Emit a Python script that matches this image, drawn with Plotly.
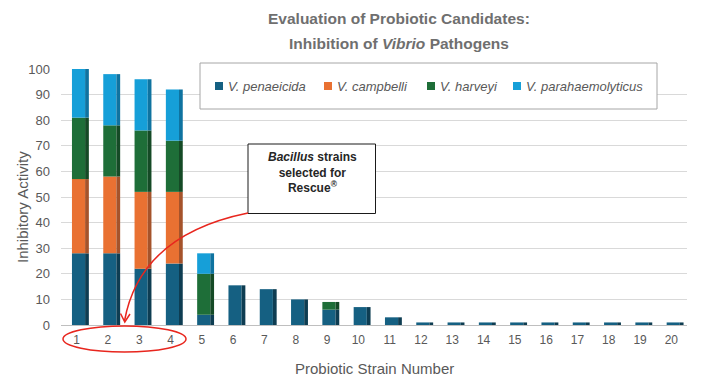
import plotly.graph_objects as go

# ---- data ----
strains = list(range(1, 21))
strain_labels = [str(s) for s in strains]
series_names = ["V. penaeicida", "V. campbelli", "V. harveyi", "V. parahaemolyticus"]
penaeicida = [28, 28, 22, 24, 4, 15.5, 14, 10, 6, 7, 3, 1, 1, 1, 1, 1, 1, 1, 1, 1]
campbelli = [29, 30, 30, 28, 0, 0, 0, 0, 0, 0, 0, 0, 0, 0, 0, 0, 0, 0, 0, 0]
harveyi = [24, 20, 24, 20, 16, 0, 0, 0, 3, 0, 0, 0, 0, 0, 0, 0, 0, 0, 0, 0]
parahaemolyticus = [19, 20, 20, 20, 8, 0, 0, 0, 0, 0, 0, 0, 0, 0, 0, 0, 0, 0, 0, 0]
y_ticks = [0, 10, 20, 30, 40, 50, 60, 70, 80, 90, 100]

series = [penaeicida, campbelli, harveyi, parahaemolyticus]
front_colors = ["#156082", "#E97132", "#1E6E38", "#169FD8"]
side_colors = ["#0E3D52", "#A5532B", "#154A26", "#0F73A0"]

# page body has an 8px margin: draw in a 702x375 figure, coordinates given in reference pixels
OFF = 8
W, H = 702, 375
ML, MT = 61 - OFF, 69 - OFF
MR = W - (687 - OFF)
MB = H - (325 - OFF)
PW, PH = W - ML - MR, H - MT - MB


def px(x):
    return (x - OFF - ML) / PW


def py(y):
    return (H - MB - (y - OFF)) / PH


fig = go.Figure()
base = [0.0] * len(strains)
for name, vals, fc, sc in zip(series_names, series, front_colors, side_colors):
    fig.add_trace(go.Bar(
        x=strains, y=vals, base=base, name=name,
        marker=dict(color=fc, line=dict(width=0)),
        width=0.42, offset=-0.15, showlegend=False,
    ))
    fig.add_trace(go.Bar(
        x=strains, y=vals, base=base, name=name + " side",
        marker=dict(color=sc, line=dict(width=0)),
        width=0.12, offset=0.27, showlegend=False, hoverinfo="skip",
    ))
    base = [b + v for b, v in zip(base, vals)]

FONT = "Liberation Sans"
GRAY = "#595959"

fig.update_layout(
    width=W, height=H,
    margin=dict(l=ML, r=MR, t=MT, b=MB, autoexpand=False),
    paper_bgcolor="white", plot_bgcolor="white",
    barmode="overlay",
    font=dict(family=FONT, color=GRAY, size=13),
    showlegend=False,
    xaxis=dict(
        range=[0.5, 20.5], tickvals=strains, ticktext=strain_labels,
        showgrid=False, zeroline=False, showline=True, linecolor="#BFBFBF", linewidth=1,
        ticks="", tickfont=dict(size=12, color=GRAY), ticklabelstandoff=4,
    ),
    yaxis=dict(
        range=[0, 100], tickvals=y_ticks, showgrid=True, gridcolor="#D9D9D9", gridwidth=1,
        zeroline=False, showline=False, ticks="", tickfont=dict(size=13, color=GRAY),
        ticklabelstandoff=10,
    ),
)

annotations = []
shapes = []

# Title
annotations.append(dict(xref="paper", yref="paper", x=px(399), y=py(18), xanchor="center", yanchor="middle",
                        text="<b>Evaluation of Probiotic Candidates:</b>", showarrow=False,
                        font=dict(size=15.5, color="#6F6F6F", family=FONT)))
annotations.append(dict(xref="paper", yref="paper", x=px(399), y=py(43), xanchor="center", yanchor="middle",
                        text="<b>Inhibition of <i>Vibrio</i> Pathogens</b>", showarrow=False,
                        font=dict(size=15.5, color="#6F6F6F", family=FONT)))
# Axis titles
annotations.append(dict(xref="paper", yref="paper", x=px(374), y=py(368), xanchor="center", yanchor="middle",
                        text="Probiotic Strain Number", showarrow=False,
                        font=dict(size=15, color=GRAY, family=FONT)))
annotations.append(dict(xref="paper", yref="paper", x=px(22), y=py(207), xanchor="center", yanchor="middle",
                        text="Inhibitory Activity", textangle=-90, showarrow=False,
                        font=dict(size=15, color=GRAY, family=FONT)))

# Legend box
shapes.append(dict(type="rect", xref="paper", yref="paper", x0=px(200), x1=px(657), y0=py(109), y1=py(63),
                   line=dict(color="#A6A6A6", width=1), fillcolor="white", layer="above"))
leg_sq = [215, 324, 427, 513]
for name, c, sx in zip(series_names, front_colors, leg_sq):
    shapes.append(dict(type="rect", xref="paper", yref="paper", x0=px(sx), x1=px(sx + 8),
                       y0=py(90), y1=py(82), line=dict(width=0), fillcolor=c, layer="above"))
    annotations.append(dict(xref="paper", yref="paper", x=px(sx + 11), y=py(86), xanchor="left", yanchor="middle",
                            text="<i>" + name + "</i>", showarrow=False,
                            font=dict(size=13, color=GRAY, family=FONT)))

# Callout box
shapes.append(dict(type="rect", xref="paper", yref="paper", x0=px(248), x1=px(375.5), y0=py(213.5), y1=py(144),
                   line=dict(color="#1A1A1A", width=1), fillcolor="white", layer="above"))
annotations.append(dict(xref="paper", yref="paper", x=px(312), y=py(148), xanchor="center", yanchor="top",
                        text="<b><i>Bacillus</i> strains<br>selected for<br>Rescue<sup>®</sup></b>",
                        showarrow=False, align="center",
                        font=dict(size=12, color="#262626", family=FONT)))

# Red curved arrow
RED = "#E8261E"
p0, p1, p2 = (248, 213), (140, 235), (124.5, 321)
path = "M {} {} Q {} {} {} {}".format(px(p0[0]), py(p0[1]), px(p1[0]), py(p1[1]), px(p2[0]), py(p2[1]))
shapes.append(dict(type="path", xref="paper", yref="paper", path=path, line=dict(color=RED, width=1.5),
                   layer="above"))
head = "M {} {} L {} {} L {} {}".format(px(120.5), py(313.5), px(124.8), py(322), px(130), py(314))
shapes.append(dict(type="path", xref="paper", yref="paper", path=head, line=dict(color=RED, width=1.5),
                   layer="above"))
# Red ellipse around strains 1-4
shapes.append(dict(type="circle", xref="paper", yref="paper", x0=px(63), x1=px(186), y0=py(352), y1=py(326),
                   line=dict(color=RED, width=1.5), layer="above"))

fig.update_layout(annotations=annotations, shapes=shapes)
fig.write_html("out.html")
